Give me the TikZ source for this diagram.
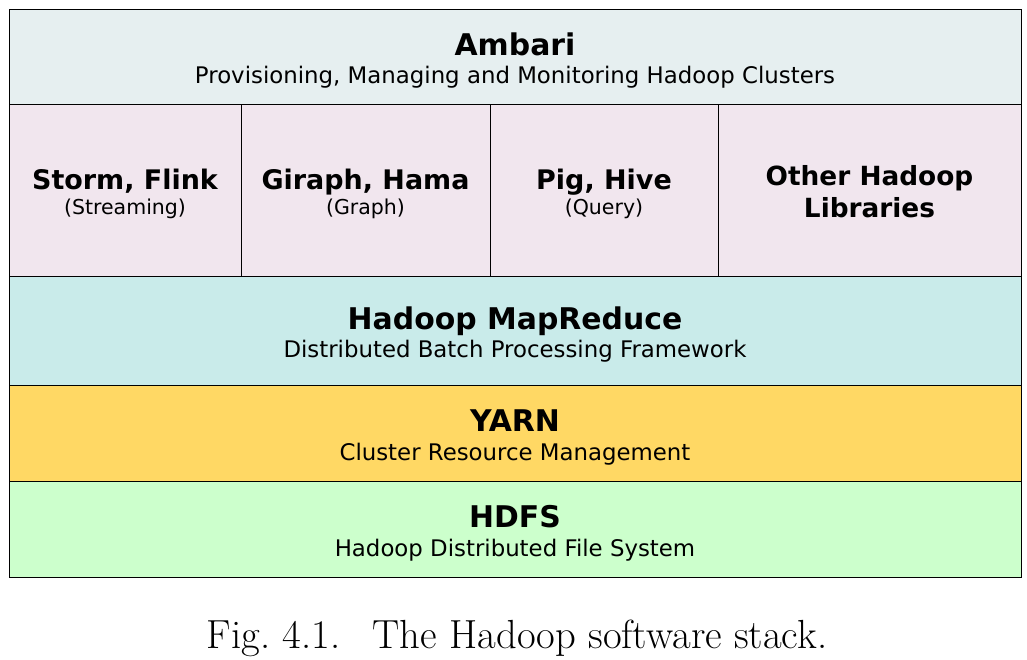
\documentclass[tikz,border=0pt]{standalone}
\usepackage{fontspec}
\newfontfamily\stackfont{DejaVu Sans}
\definecolor{ambaricol}{HTML}{E6EFF0}
\definecolor{libcol}{HTML}{F1E6EE}
\definecolor{mrcol}{HTML}{C9EBEA}
\definecolor{yarncol}{HTML}{FFD864}
\definecolor{hdfscol}{HTML}{CCFFCC}
% titles; the strut pushes the text a little below the middle
\newcommand{\ttl}[1]{{\bfseries\fontsize{25.5}{27}\selectfont\rule{0pt}{26pt}#1}}
\newcommand{\libttl}[1]{{\bfseries\fontsize{23}{27}\selectfont\rule{0pt}{24.3pt}#1}}
\newcommand{\paren}[1]{{\fontsize{17.5}{21}\selectfont #1}}
\begin{document}
\begin{tikzpicture}[x=0.03cm, y=-0.03cm,
  layer/.style={draw=black, line width=0.8pt, align=center, inner sep=0pt,
    font=\stackfont\fontsize{19.5}{24.3}\selectfont, minimum width=30.36cm},
  lib/.style={draw=black, line width=0.8pt, align=center, inner sep=0pt,
    fill=libcol, minimum height=5.16cm, font=\stackfont\fontsize{17.5}{21.3}\selectfont}]
\useasboundingbox (0,0) rectangle (1027,659);
\node[layer, fill=ambaricol, minimum height=2.85cm] (ambari) at (515,56.5) {\ttl{Ambari}\\Provisioning, Managing and Monitoring Hadoop Clusters};
\node[lib, minimum width=6.96cm] (storm) at (125,190) {\libttl{Storm, Flink}\\\paren{(Streaming)}};
\node[lib, minimum width=7.47cm] (giraph) at (365.5,190) {\libttl{Giraph, Hama}\\\paren{(Graph)}};
\node[lib, minimum width=6.84cm] (pig) at (604,190) {\libttl{Pig, Hive}\\\paren{(Query)}};
\node[lib, minimum width=9.09cm, font=\stackfont\bfseries\fontsize{22.5}{27.8}\selectfont] (other) at (869.5,190) {\rule{0pt}{19.7pt}Other Hadoop\\Libraries};
\node[layer, fill=mrcol, minimum height=3.27cm] (mapred) at (515,330.5) {\ttl{Hadoop MapReduce}\\Distributed Batch Processing Framework};
\node[layer, fill=yarncol, minimum height=2.88cm] (yarn) at (515,433) {\ttl{YARN}\\Cluster Resource Management};
\node[layer, fill=hdfscol, minimum height=2.88cm] (hdfs) at (515,529) {\ttl{HDFS}\\Hadoop Distributed File System};
\node[font=\fontsize{34.7}{40}\selectfont] (caption) at (517,638) {Fig.~4.1.\hskip0.8em The Hadoop software stack.};
\end{tikzpicture}
\end{document}
